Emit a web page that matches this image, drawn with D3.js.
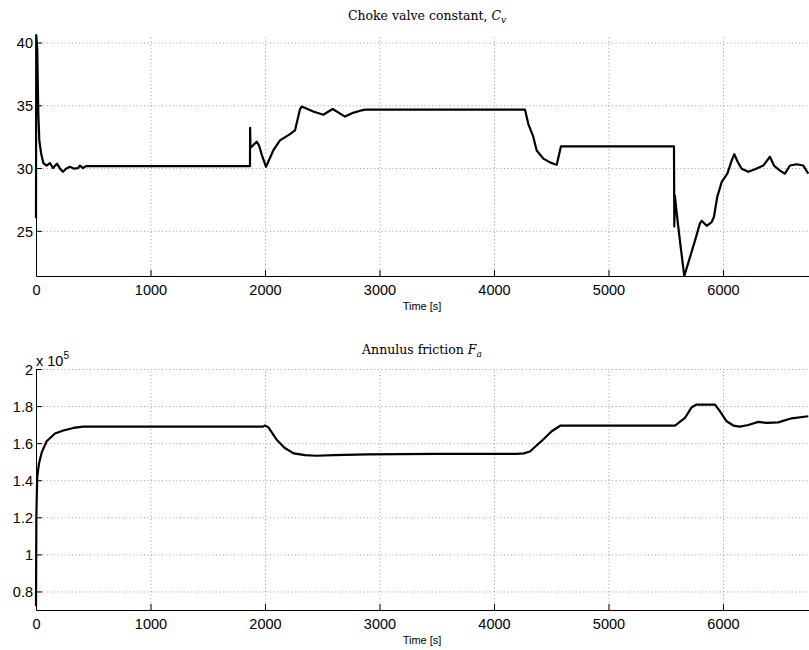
<!DOCTYPE html>
<html>
<head>
<meta charset="utf-8">
<script src="https://cdn.jsdelivr.net/npm/d3@7"></script>
<style>
body { margin: 0; background: #fff; }
.grid line { stroke: #9a9a9a; stroke-dasharray: 1,2.6; }
.grid path { display: none; }
</style>
</head>
<body>
<script>
// time axis ticks
var timeTicks = [0, 1000, 2000, 3000, 4000, 5000, 6000];

// choke valve constant Cv
var cvTicks = [25, 30, 35, 40];
var cvTime = [0, 2, 11, 20, 29, 44, 64, 93, 122, 148, 183, 210, 236, 262, 297, 332, 367, 384, 410, 437,
  1869, 1870, 1873, 1927, 1948, 1974, 2009, 2072, 2131, 2218, 2262, 2306, 2320, 2422, 2509, 2591, 2699, 2769, 2845, 2873,
  4271, 4300, 4343, 4373, 4431, 4489, 4533, 4548, 4585,
  5572, 5575, 5580, 5596, 5624, 5662, 5712, 5755, 5799, 5814, 5858, 5901, 5921, 5950, 5989, 6038, 6076, 6099, 6128,
  6163, 6221, 6280, 6352, 6410, 6445, 6498, 6541, 6585, 6644, 6701, 6745];
var cvValue = [26, 40.6, 39.4, 34.4, 32.2, 31.2, 30.4, 30.2, 30.4, 30.0, 30.35, 29.95, 29.7, 29.95, 30.1, 29.95, 30.0, 30.2, 30.0, 30.15,
  30.15, 33.2, 31.6, 32.1, 31.8, 31.0, 30.1, 31.4, 32.2, 32.7, 33.0, 34.7, 34.9, 34.5, 34.25, 34.7, 34.1, 34.4, 34.6, 34.65,
  34.65, 33.5, 32.5, 31.4, 30.75, 30.45, 30.3, 30.27, 31.73,
  31.73, 25.35, 27.8, 26.4, 24.2, 21.4, 22.9, 24.2, 25.6, 25.8, 25.4, 25.7, 26.1, 27.7, 28.9, 29.55, 30.6, 31.1, 30.5,
  29.95, 29.7, 29.9, 30.2, 30.9, 30.2, 29.8, 29.55, 30.2, 30.3, 30.2, 29.55];

// annulus friction Fa (x 10^5)
var faTicks = [0.8, 1, 1.2, 1.4, 1.6, 1.8, 2];
var faTime = [0, 3, 8, 11, 26, 50, 93, 166, 238, 326, 413,
  1980, 2000, 2030, 2100, 2170, 2250, 2350, 2450, 2600, 2900, 3500, 4200, 4260, 4314, 4430, 4504, 4582,
  5581, 5668, 5727, 5770, 5930, 5974, 6032, 6090, 6148, 6221, 6308, 6382, 6483, 6600, 6745];
var faValue = [0.72, 1.2, 1.35, 1.42, 1.49, 1.55, 1.61, 1.652, 1.668, 1.682, 1.689,
  1.689, 1.695, 1.685, 1.62, 1.575, 1.545, 1.535, 1.532, 1.535, 1.54, 1.542, 1.542, 1.545, 1.555, 1.62, 1.664, 1.695,
  1.695, 1.736, 1.794, 1.808, 1.808, 1.772, 1.718, 1.695, 1.689, 1.698, 1.715, 1.709, 1.712, 1.734, 1.745];

var W = 809, H = 650;
var sans = "Liberation Sans, Arial, Helvetica, sans-serif";
var svg = d3.select("body").append("svg").attr("width", W).attr("height", H);

var left = 36, right = 810;

function panel(cfg) {
  var x = d3.scaleLinear().domain([0, 6760]).range([left, right]);
  var y = d3.scaleLinear().domain(cfg.yDomain).range([cfg.bottom, cfg.top]);
  var g = svg.append("g");

  // grid
  g.append("g").attr("class", "grid")
    .attr("transform", "translate(0," + cfg.bottom + ")")
    .call(d3.axisBottom(x).tickValues(timeTicks).tickSize(-(cfg.bottom - cfg.top)).tickFormat(""));
  g.append("g").attr("class", "grid")
    .attr("transform", "translate(" + left + ",0)")
    .call(d3.axisLeft(y).tickValues(cfg.yTicks).tickSize(-(right - left)).tickFormat(""));

  // line
  var pts = d3.zip(cfg.t, cfg.v);
  g.append("path").datum(pts)
    .attr("fill", "none").attr("stroke", "#000").attr("stroke-width", 2.2)
    .attr("stroke-linejoin", "round")
    .attr("d", d3.line().x(function(d) { return x(d[0]); }).y(function(d) { return y(d[1]); }));

  // axes
  var xa = g.append("g").attr("transform", "translate(0," + cfg.bottom + ")")
    .call(d3.axisBottom(x).tickValues(timeTicks).tickSizeInner(-6).tickSizeOuter(0).tickPadding(9)
      .tickFormat(d3.format("d")));
  var ya = g.append("g").attr("transform", "translate(" + left + ",0)")
    .call(d3.axisLeft(y).tickValues(cfg.yTicks).tickSizeInner(-6).tickSizeOuter(0).tickPadding(3)
      .tickFormat(cfg.fmt));
  [xa, ya].forEach(function(a) {
    a.attr("font-family", sans).attr("font-size", 14.5);
    a.select(".domain").attr("stroke", "#000");
    a.selectAll(".tick text").attr("fill", "#000");
  });
  ya.selectAll(".tick text").attr("dy", "0.36em");

  // x label
  g.append("text").attr("x", (left + right) / 2 - 1).attr("y", cfg.bottom + 34)
    .attr("text-anchor", "middle")
    .style("font-family", sans).style("font-size", "11px")
    .text("Time [s]");

  // title
  var tt = g.append("text").attr("x", cfg.titleX).attr("y", cfg.top - 15)
    .attr("text-anchor", "middle")
    .style("font-family", "DejaVu Serif, serif").style("font-size", "12.5px");
  tt.append("tspan").text(cfg.title);
  tt.append("tspan").style("font-style", "italic").text(cfg.sym);
  tt.append("tspan").attr("dy", 3).style("font-size", "9px").style("font-style", "italic").text(cfg.sub);
  return g;
}

panel({
  yDomain: [21.4, 40.6], yTicks: cvTicks, top: 35, bottom: 276,
  t: cvTime, v: cvValue, fmt: d3.format("d"),
  title: "Choke valve constant, ", sym: "C", sub: "v", titleX: 427
});

panel({
  yDomain: [0.7, 2.0], yTicks: faTicks, top: 369, bottom: 610,
  t: faTime, v: faValue, fmt: function(d) { return String(d); },
  title: "Annulus friction ", sym: "F", sub: "a", titleX: 422
});

// exponent label
var ex = svg.append("text").attr("x", 36).attr("y", 366)
  .style("font-family", sans).style("font-size", "14.5px");
ex.append("tspan").text("x 10");
ex.append("tspan").attr("dy", -7).style("font-size", "10px").text("5");
</script>
</body>
</html>
